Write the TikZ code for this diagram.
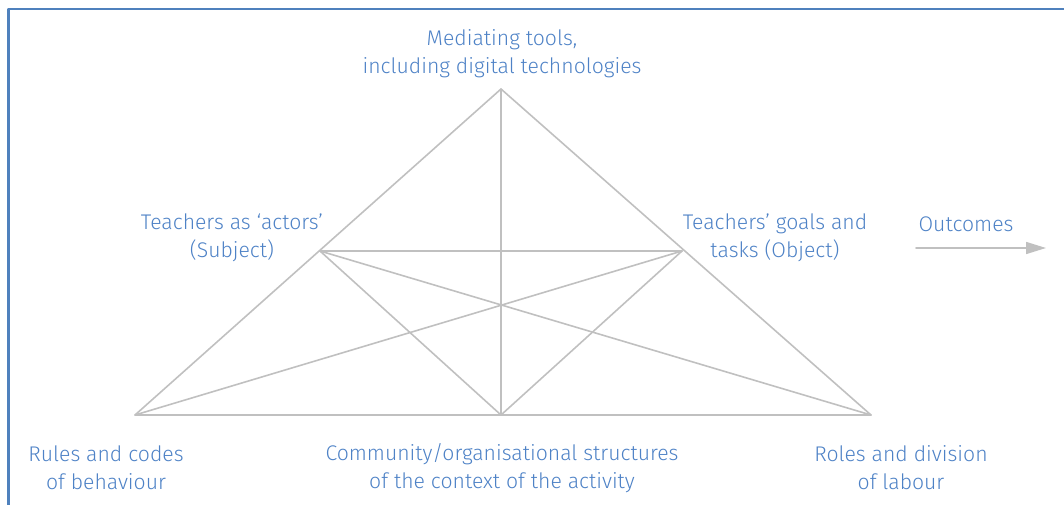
\documentclass[tikz,border=0pt]{standalone}
\usepackage{fontspec}
\setmainfont{Fira Sans}[UprightFont=* Light]
\usetikzlibrary{arrows.meta}
\definecolor{frameblue}{RGB}{79,129,189}
\definecolor{labelblue}{RGB}{78,130,198}
\definecolor{webgrey}{RGB}{192,192,192}

\begin{document}
\begin{tikzpicture}[x=1pt,y=-1pt,line cap=round,line join=round,>=Triangle,
    lbl/.style={align=center,text=labelblue,inner sep=0pt,font=\fontsize{21.2}{28}\selectfont},
    web/.style={webgrey,line width=1.6pt}]

    \useasboundingbox (0,0) rectangle (1064,505);

    % frame
    \draw [frameblue,line width=2.6pt,line cap=butt] (8.5,505)--(8.5,9)--(1064,9);

    % triangle vertices
    \coordinate (T) at (501,89);   % tools
    \coordinate (S) at (320,251);  % subject
    \coordinate (O) at (682,251);  % object
    \coordinate (R) at (135,415);  % rules
    \coordinate (C) at (501,415);  % community
    \coordinate (D) at (871,415);  % division of labour

    % outer triangle
    \draw [web] (T)--(R)--(D)--cycle;
    % inner lines
    \draw [web] (T)--(C);
    \draw [web] (S)--(O);
    \draw [web] (S)--(C);
    \draw [web] (O)--(C);
    \draw [web] (S)--(D);
    \draw [web] (O)--(R);

    % labels
    \node [lbl] (tools) at (502,54) {Mediating tools,\\including digital technologies};
    \node [lbl] (subject) at (232,238) {Teachers as ‘actors’\\(Subject)};
    \node [lbl] (object) at (775,238) {Teachers’ goals and\\tasks (Object)};
    \node [lbl] (outcomes) at (966,224) {Outcomes};
    \node [lbl] (rules) at (106,468) {Rules and codes\\of behaviour};
    \node [lbl] (community) at (502,468) {Community/organisational structures\\of the context of the activity};
    \node [lbl] (division) at (901,468) {Roles and division\\of labour};

    % outcome arrow
    \coordinate (a1) at (916,248);
    \coordinate (a2) at (1046,248);
    \draw [->,webgrey,line width=1.6pt,>={Triangle[length=20pt,width=12pt]}] (a1)--(a2);
\end{tikzpicture}
\end{document}
